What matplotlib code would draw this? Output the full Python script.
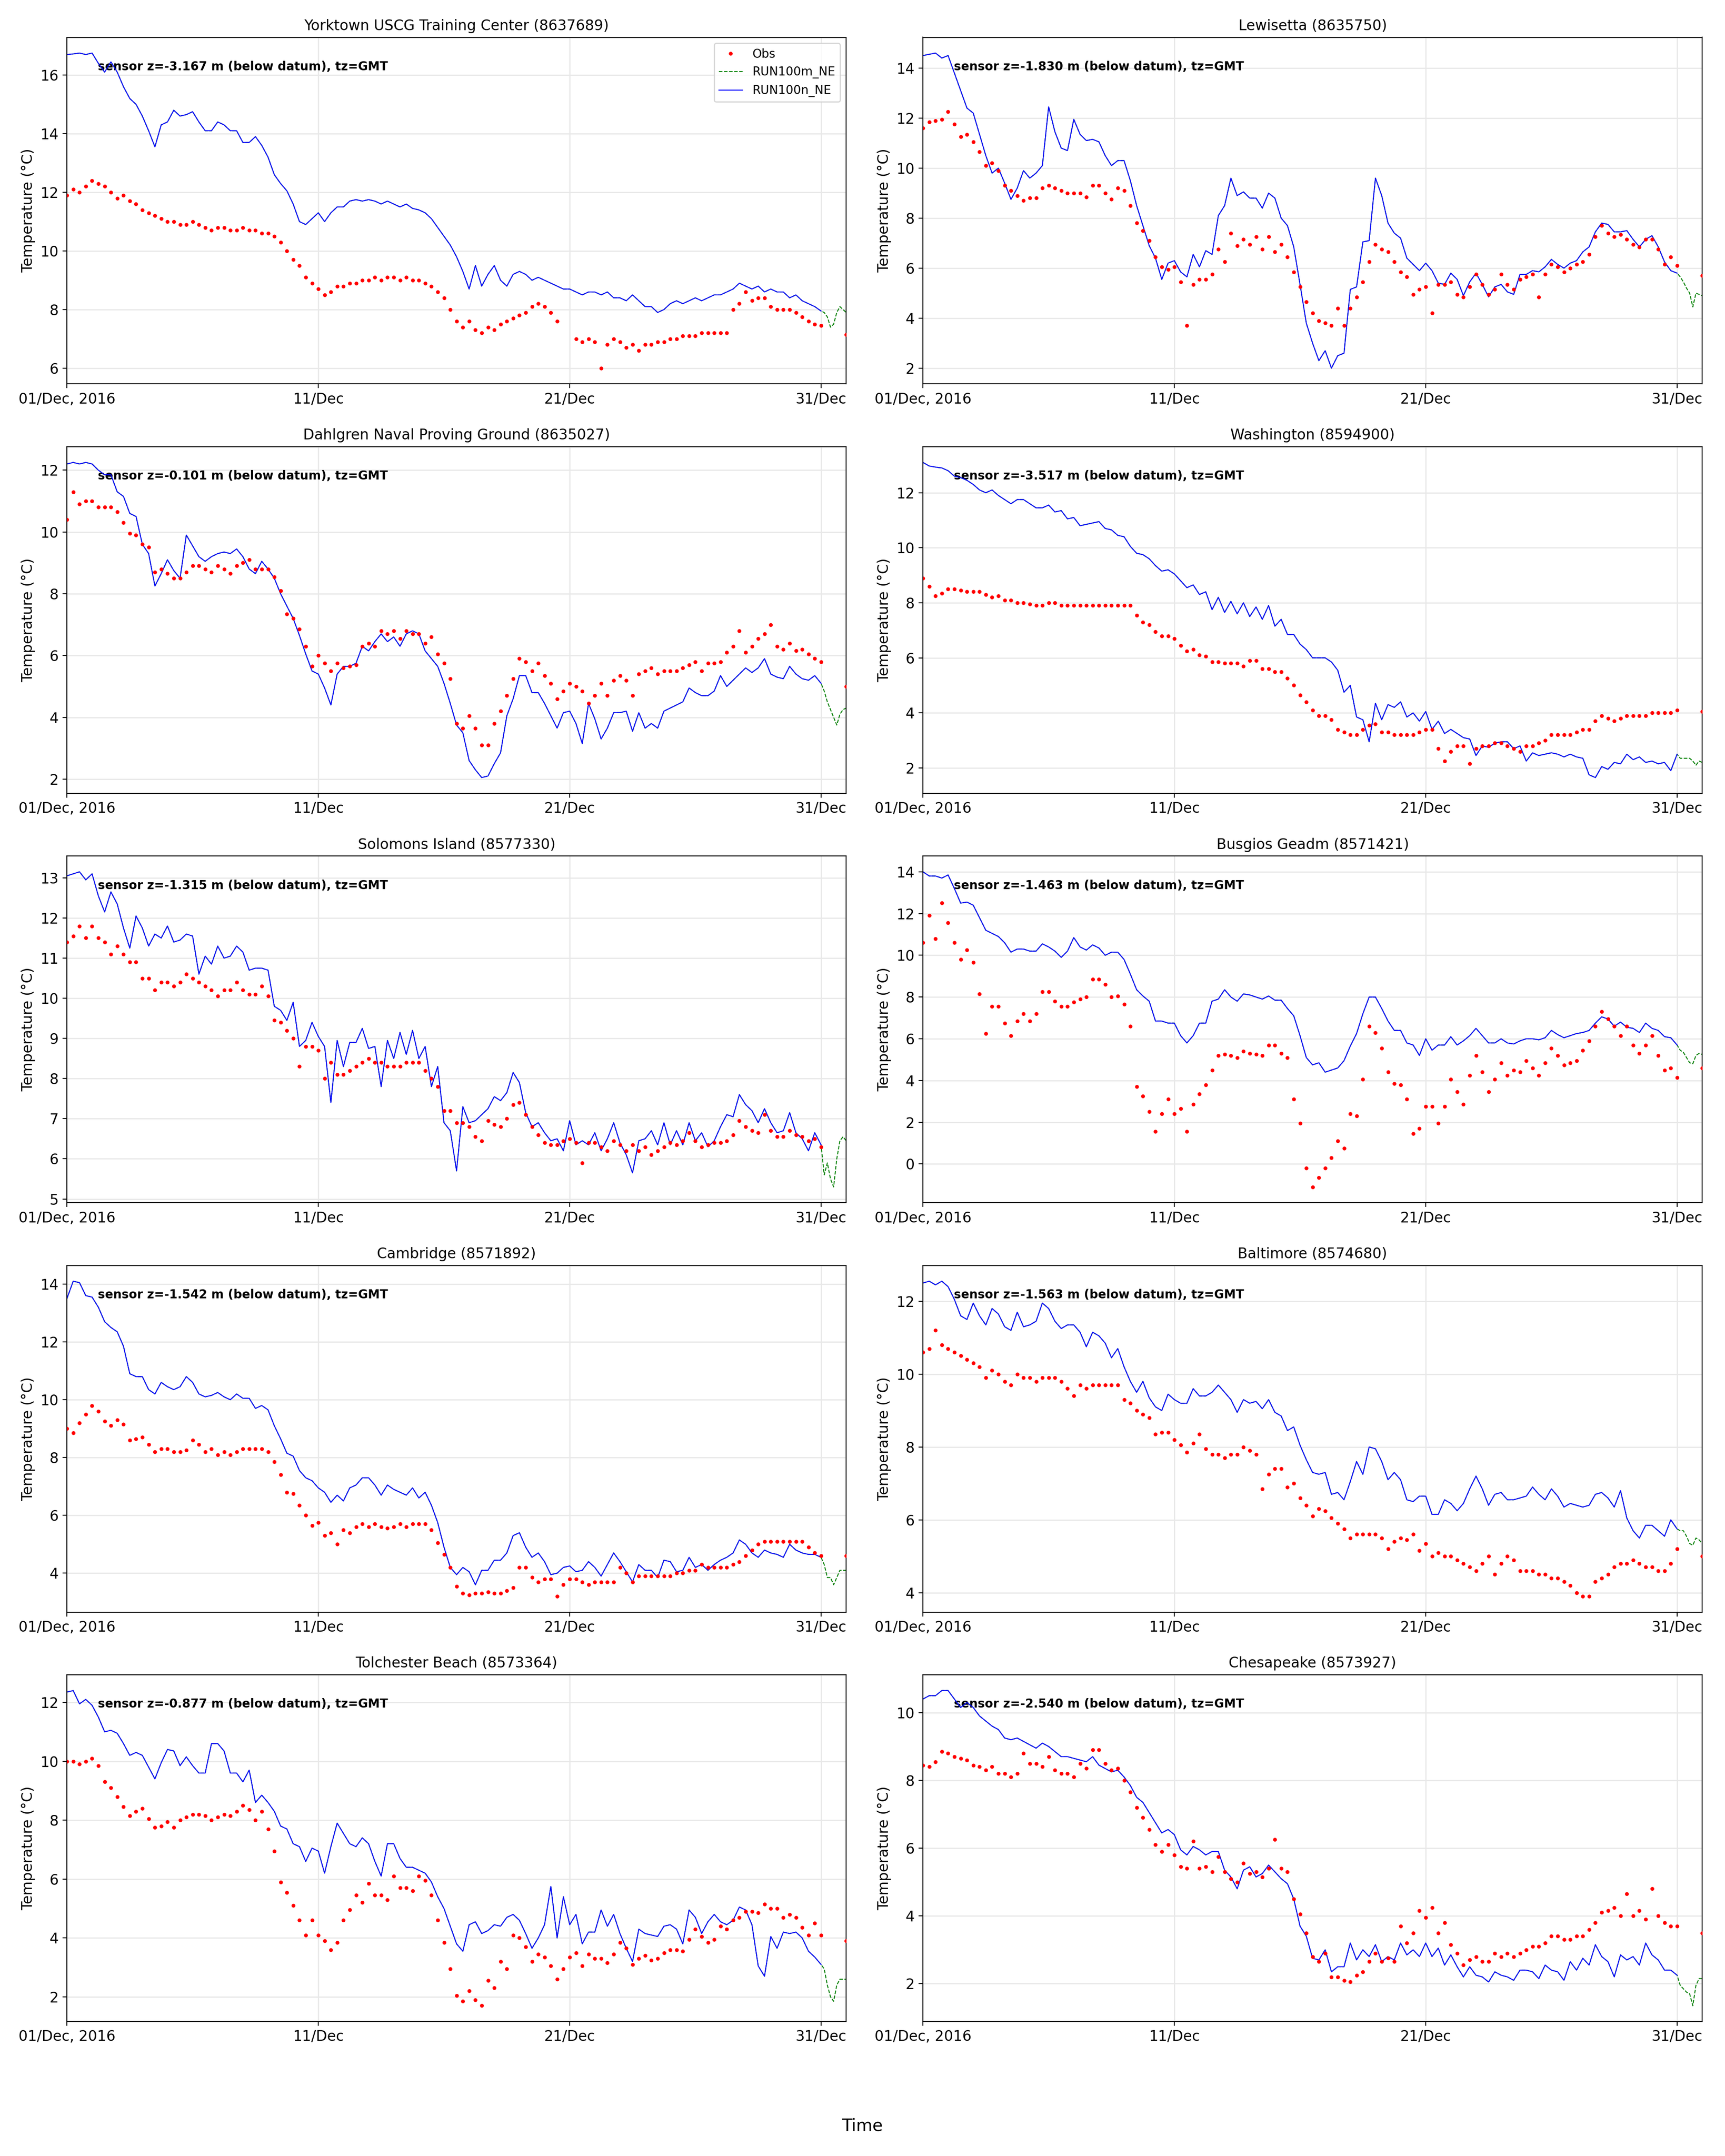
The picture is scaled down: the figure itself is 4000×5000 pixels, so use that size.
import numpy as np
import pandas as pd
import matplotlib
matplotlib.use("Agg")
import matplotlib.pyplot as plt
from matplotlib.ticker import MultipleLocator

# time axes: model + obs every 6 h (Dec 1 .. Dec 31), forecast tail every 3 h (Dec 31 .. Jan 1)
t_run = pd.date_range("2016-12-01", periods=121, freq="6h")
t_tail = pd.date_range("2016-12-31", periods=9, freq="3h")
t_end = pd.Timestamp("2017-01-01")

titles = ["Yorktown USCG Training Center (8637689)", "Lewisetta (8635750)",
          "Dahlgren Naval Proving Ground (8635027)", "Washington (8594900)",
          "Solomons Island (8577330)", "Busgios Geadm (8571421)",
          "Cambridge (8571892)", "Baltimore (8574680)",
          "Tolchester Beach (8573364)", "Chesapeake (8573927)"]
sensor_z = [-3.167, -1.830, -0.101, -3.517, -1.315, -1.463, -1.542, -1.563, -0.877, -2.540]
ystep = [2, 2, 2, 2, 1, 2, 2, 2, 2, 2]
tick_dates = pd.to_datetime(["2016-12-01", "2016-12-11", "2016-12-21", "2016-12-31"])
tick_labels = ["01/Dec, 2016", "11/Dec", "21/Dec", "31/Dec"]
nan = np.nan

#### YORKTOWN ####
yorktown_obs = [11.9, 12.1, 12.0, 12.2, 12.4, 12.3, 12.2, 12.0, 11.8, 11.9, 11.7, 11.6,
    11.4, 11.3, 11.2, 11.1, 11.0, 11.0, 10.9, 10.9, 11.0, 10.9, 10.8, 10.7,
    10.8, 10.8, 10.7, 10.7, 10.8, 10.7, 10.7, 10.6, 10.6, 10.5, 10.3, 10.0,
    9.7, 9.5, 9.1, 8.9, 8.7, 8.5, 8.6, 8.8, 8.8, 8.9, 8.9, 9.0,
    9.0, 9.1, 9.0, 9.1, 9.1, 9.0, 9.1, 9.0, 9.0, 8.9, 8.8, 8.6,
    8.4, 8.0, 7.6, 7.4, 7.6, 7.3, 7.2, 7.4, 7.3, 7.5, 7.6, 7.7,
    7.8, 7.9, 8.1, 8.2, 8.1, 7.9, 7.6, nan, nan, 7.0, 6.9, 7.0,
    6.9, 6.0, 6.8, 7.0, 6.9, 6.7, 6.8, 6.6, 6.8, 6.8, 6.9, 6.9,
    7.0, 7.0, 7.1, 7.1, 7.1, 7.2, 7.2, 7.2, 7.2, 7.2, 8.0, 8.2,
    8.6, 8.3, 8.4, 8.4, 8.1, 8.0, 8.0, 8.0, 7.9, 7.75, 7.6, 7.5, 7.45]
yorktown_run = [16.7, 16.72, 16.75, 16.7, 16.75, 16.4, 16.1, 16.45, 16.1, 15.6, 15.2, 15.0,
    14.6, 14.1, 13.55, 14.3, 14.4, 14.8, 14.6, 14.65, 14.75, 14.4, 14.1, 14.1,
    14.4, 14.3, 14.1, 14.1, 13.7, 13.7, 13.9, 13.6, 13.2, 12.6, 12.3, 12.05,
    11.6, 11.0, 10.9, 11.1, 11.3, 11.0, 11.3, 11.5, 11.5, 11.7, 11.75, 11.7,
    11.75, 11.7, 11.6, 11.7, 11.6, 11.5, 11.6, 11.45, 11.4, 11.3, 11.1, 10.8,
    10.5, 10.2, 9.8, 9.3, 8.7, 9.5, 8.8, 9.2, 9.5, 9.0, 8.8, 9.2,
    9.3, 9.2, 9.0, 9.1, 9.0, 8.9, 8.8, 8.7, 8.7, 8.6, 8.5, 8.6,
    8.6, 8.5, 8.6, 8.4, 8.4, 8.3, 8.5, 8.3, 8.1, 8.1, 7.9, 8.0,
    8.2, 8.3, 8.2, 8.3, 8.4, 8.3, 8.4, 8.5, 8.5, 8.6, 8.7, 8.9,
    8.8, 8.7, 8.8, 8.6, 8.7, 8.6, 8.6, 8.4, 8.5, 8.3, 8.2, 8.1, 7.95]
yorktown_tail = [7.95, 7.9, 7.75, 7.4, 7.5, 7.9, 8.1, 8.0, 7.9]
yorktown_last = 7.15

#### LEWISETTA ####
lewisetta_obs = [11.6, 11.85, 11.9, 11.95, 12.25, 11.75, 11.25, 11.35, 11.05, 10.65, 10.1, 10.2,
    9.9, 9.3, 9.1, 8.9, 8.7, 8.8, 8.8, 9.2, 9.3, 9.2, 9.1, 9.0,
    9.0, 9.0, 8.85, 9.3, 9.3, 9.0, 8.75, 9.2, 9.1, 8.5, 7.8, 7.5,
    7.1, 6.45, 6.05, 5.95, 6.05, 5.45, 3.7, 5.35, 5.55, 5.55, 5.75, 6.75,
    6.25, 7.4, 6.9, 7.15, 6.95, 7.25, 6.75, 7.25, 6.65, 6.95, 6.45, 5.85,
    5.25, 4.65, 4.2, 3.9, 3.8, 3.7, 4.4, 3.7, 4.4, 4.85, 5.45, 6.25,
    6.95, 6.75, 6.65, 6.25, 5.85, 5.65, 4.95, 5.15, 5.25, 4.2, 5.35, 5.35,
    5.45, 4.95, 4.85, 5.25, 5.75, 5.35, 4.95, 5.15, 5.75, 5.35, 5.15, 5.55,
    5.65, 5.75, 4.85, 5.75, 6.15, 6.05, 5.85, 6.0, 6.15, 6.25, 6.55, 7.25,
    7.7, 7.4, 7.25, 7.35, 7.15, 6.95, 6.85, 7.15, 7.15, 6.75, 6.15, 6.45, 6.1]
lewisetta_run = [14.5, 14.55, 14.6, 14.4, 14.5, 13.8, 13.1, 12.4, 12.2, 11.35, 10.5, 9.8,
    10.0, 9.4, 8.75, 9.2, 9.9, 9.6, 9.8, 10.1, 12.45, 11.45, 10.8, 10.7,
    11.95, 11.35, 11.1, 11.15, 11.05, 10.5, 10.1, 10.3, 10.3, 9.5, 8.5, 7.7,
    6.9, 6.4, 5.55, 6.2, 6.3, 5.85, 5.65, 6.55, 6.05, 6.7, 6.55, 8.1,
    8.5, 9.6, 8.9, 9.05, 8.8, 8.8, 8.4, 9.0, 8.8, 8.0, 7.7, 6.85,
    5.35, 3.8, 3.0, 2.3, 2.7, 2.0, 2.5, 2.6, 5.15, 5.25, 7.05, 7.1,
    9.6, 8.9, 7.8, 7.4, 7.2, 6.4, 6.15, 5.9, 6.2, 5.9, 5.4, 5.35,
    5.8, 5.55, 4.9, 5.45, 5.8, 5.35, 4.85, 5.25, 5.35, 5.05, 4.95, 5.75,
    5.75, 5.9, 5.85, 6.05, 6.35, 6.15, 6.0, 6.2, 6.3, 6.65, 6.85, 7.45,
    7.8, 7.75, 7.45, 7.45, 7.5, 7.15, 6.85, 7.15, 7.3, 6.85, 6.25, 5.9, 5.8]
lewisetta_tail = [5.8, 5.65, 5.45, 5.2, 5.0, 4.45, 5.0, 4.95, 4.9]
lewisetta_last = 5.7

#### DAHLGREN ####
dahlgren_obs = [10.4, 11.3, 10.9, 11.0, 11.0, 10.8, 10.8, 10.8, 10.65, 10.3, 9.95, 9.9,
    9.6, 9.5, 8.7, 8.8, 8.65, 8.5, 8.5, 8.7, 8.9, 8.9, 8.8, 8.7,
    8.9, 8.8, 8.65, 8.9, 9.0, 9.1, 8.8, 8.8, 8.8, 8.55, 8.1, 7.35,
    7.2, 6.85, 6.3, 5.65, 6.0, 5.75, 5.5, 5.75, 5.6, 5.65, 5.7, 6.3,
    6.4, 6.3, 6.8, 6.7, 6.8, 6.55, 6.8, 6.7, 6.7, 6.4, 6.6, 6.05,
    5.75, 5.25, 3.8, 3.65, 4.05, 3.65, 3.1, 3.1, 3.8, 4.2, 4.7, 5.25,
    5.9, 5.8, 5.5, 5.75, 5.35, 5.1, 4.6, 4.85, 5.1, 5.0, 4.85, 4.45,
    4.7, 5.1, 4.7, 5.2, 5.35, 5.2, 4.7, 5.4, 5.5, 5.6, 5.4, 5.5,
    5.5, 5.5, 5.6, 5.7, 5.8, 5.5, 5.75, 5.75, 5.8, 6.1, 6.3, 6.8,
    6.1, 6.3, 6.55, 6.7, 7.0, 6.3, 6.2, 6.4, 6.15, 6.2, 6.05, 5.9, 5.8]
dahlgren_run = [12.2, 12.25, 12.2, 12.25, 12.2, 12.0, 11.85, 11.85, 11.3, 11.15, 10.6, 10.5,
    9.6, 9.3, 8.25, 8.65, 9.1, 8.75, 8.5, 9.9, 9.55, 9.2, 9.05, 9.2,
    9.3, 9.35, 9.3, 9.45, 9.2, 8.8, 8.65, 9.05, 8.8, 8.5, 8.0, 7.6,
    7.2, 6.65, 6.05, 5.5, 5.4, 4.95, 4.4, 5.4, 5.65, 5.65, 5.75, 6.3,
    6.15, 6.45, 6.7, 6.45, 6.6, 6.3, 6.7, 6.8, 6.7, 6.15, 5.9, 5.65,
    5.1, 4.45, 3.75, 3.5, 2.6, 2.3, 2.05, 2.1, 2.5, 2.85, 4.05, 4.6,
    5.35, 5.35, 4.8, 4.8, 4.45, 4.05, 3.65, 4.15, 4.2, 3.8, 3.15, 4.45,
    3.95, 3.3, 3.65, 4.15, 4.15, 4.2, 3.55, 4.15, 3.65, 3.8, 3.65, 4.2,
    4.3, 4.4, 4.5, 4.95, 4.8, 4.7, 4.7, 4.85, 5.35, 5.0, 5.2, 5.4,
    5.6, 5.45, 5.6, 5.9, 5.4, 5.3, 5.25, 5.65, 5.4, 5.25, 5.2, 5.35, 5.1]
dahlgren_tail = [5.1, 4.85, 4.5, 4.25, 4.0, 3.75, 4.1, 4.25, 4.3]
dahlgren_last = 5.0

#### WASHINGTON ####
washington_obs = [8.9, 8.6, 8.25, 8.35, 8.5, 8.5, 8.45, 8.4, 8.4, 8.4, 8.3, 8.2,
    8.25, 8.1, 8.1, 8.0, 8.0, 7.95, 7.9, 7.9, 8.0, 8.0, 7.9, 7.9,
    7.9, 7.9, 7.9, 7.9, 7.9, 7.9, 7.9, 7.9, 7.9, 7.9, 7.55, 7.3,
    7.2, 6.95, 6.8, 6.8, 6.7, 6.45, 6.25, 6.3, 6.1, 6.05, 5.85, 5.85,
    5.8, 5.8, 5.8, 5.7, 5.9, 5.9, 5.6, 5.6, 5.5, 5.5, 5.25, 5.0,
    4.65, 4.4, 4.1, 3.9, 3.9, 3.75, 3.4, 3.3, 3.2, 3.2, 3.4, 3.55,
    3.6, 3.3, 3.3, 3.2, 3.2, 3.2, 3.2, 3.3, 3.4, 3.4, 2.7, 2.25,
    2.6, 2.8, 2.8, 2.15, 2.7, 2.8, 2.8, 2.9, 2.9, 2.8, 2.7, 2.6,
    2.8, 2.8, 2.9, 3.0, 3.2, 3.2, 3.2, 3.2, 3.3, 3.4, 3.4, 3.7,
    3.9, 3.8, 3.7, 3.8, 3.9, 3.9, 3.9, 3.9, 4.0, 4.0, 4.0, 4.0, 4.1]
washington_run = [13.1, 12.97, 12.93, 12.9, 12.8, 12.6, 12.55, 12.45, 12.3, 12.1, 12.0, 12.1,
    11.9, 11.75, 11.6, 11.75, 11.75, 11.6, 11.45, 11.45, 11.55, 11.3, 11.35, 11.05,
    11.1, 10.8, 10.85, 10.9, 10.95, 10.7, 10.65, 10.45, 10.4, 10.05, 9.8, 9.75,
    9.6, 9.35, 9.15, 9.2, 9.05, 8.8, 8.55, 8.65, 8.3, 8.4, 7.75, 8.2,
    7.65, 8.05, 7.6, 8.0, 7.5, 7.85, 7.4, 7.9, 7.15, 7.4, 6.85, 6.85,
    6.5, 6.3, 6.0, 6.0, 6.0, 5.85, 5.55, 4.75, 5.0, 3.85, 3.75, 2.95,
    4.35, 3.75, 4.3, 4.2, 4.4, 3.85, 4.0, 3.7, 4.05, 3.4, 3.7, 3.25,
    3.4, 3.25, 3.1, 3.05, 2.45, 2.8, 2.75, 2.9, 2.95, 2.95, 2.7, 2.8,
    2.25, 2.55, 2.45, 2.5, 2.55, 2.5, 2.4, 2.5, 2.4, 2.35, 1.75, 1.65,
    2.05, 1.95, 2.2, 2.15, 2.5, 2.3, 2.4, 2.2, 2.25, 2.15, 2.2, 1.9, 2.5]
washington_tail = [2.5, 2.35, 2.35, 2.35, 2.35, 2.25, 2.1, 2.25, 2.2]
washington_last = 4.05

#### SOLOMONS ####
solomons_obs = [11.4, 11.55, 11.8, 11.5, 11.8, 11.5, 11.4, 11.1, 11.3, 11.1, 10.9, 10.9,
    10.5, 10.5, 10.2, 10.4, 10.4, 10.3, 10.4, 10.6, 10.5, 10.4, 10.3, 10.2,
    10.05, 10.2, 10.2, 10.4, 10.2, 10.1, 10.1, 10.3, 10.05, 9.45, 9.4, 9.2,
    9.0, 8.3, 8.8, 8.8, 8.7, 8.0, 8.4, 8.1, 8.1, 8.2, 8.3, 8.4,
    8.5, 8.4, 8.4, 8.3, 8.3, 8.3, 8.4, 8.4, 8.4, 8.2, 8.0, 7.8,
    7.2, 7.2, 6.9, 6.9, 6.8, 6.55, 6.45, 6.95, 6.85, 6.8, 7.0, 7.35,
    7.4, 7.1, 6.8, 6.6, 6.4, 6.35, 6.35, 6.45, 6.5, 6.4, 5.9, 6.4,
    6.4, 6.3, 6.2, 6.45, 6.35, 6.2, 6.35, 6.2, 6.3, 6.1, 6.2, 6.3,
    6.4, 6.35, 6.45, 6.65, 6.45, 6.3, 6.35, 6.4, 6.4, 6.45, 6.6, 6.95,
    6.8, 6.7, 6.65, 7.1, 6.7, 6.55, 6.55, 6.7, 6.6, 6.55, 6.45, 6.5, 6.3]
solomons_run = [13.05, 13.1, 13.15, 12.95, 13.1, 12.55, 12.15, 12.65, 12.35, 11.75, 11.25, 12.05,
    11.75, 11.3, 11.6, 11.5, 11.8, 11.4, 11.45, 11.6, 11.55, 10.6, 11.05, 10.85,
    11.3, 11.0, 11.05, 11.3, 11.15, 10.7, 10.75, 10.75, 10.7, 9.8, 9.7, 9.45,
    9.9, 8.8, 8.95, 9.4, 9.05, 8.8, 7.4, 8.95, 8.3, 8.9, 8.9, 9.25,
    8.75, 8.8, 7.8, 8.95, 8.5, 9.15, 8.6, 9.2, 8.5, 8.8, 7.8, 8.3,
    6.9, 6.7, 5.7, 7.3, 6.9, 6.95, 7.1, 7.25, 7.55, 7.45, 7.65, 8.15,
    7.9, 7.15, 6.8, 6.9, 6.65, 6.45, 6.5, 6.2, 6.95, 6.35, 6.45, 6.35,
    6.65, 6.2, 6.5, 6.9, 6.4, 6.1, 5.65, 6.45, 6.5, 6.7, 6.35, 6.9,
    6.35, 6.7, 6.35, 6.9, 6.45, 6.65, 6.3, 6.45, 6.8, 7.1, 7.05, 7.6,
    7.35, 7.2, 6.9, 7.25, 6.9, 6.65, 6.7, 7.15, 6.65, 6.5, 6.2, 6.65, 6.35]
solomons_tail = [6.35, 5.6, 5.9, 5.5, 5.3, 6.0, 6.45, 6.55, 6.45]
solomons_last = nan

#### BUSGIOS ####
busgios_obs = [10.6, 11.9, 10.8, 12.5, 11.55, 10.6, 9.8, 10.25, 9.65, 8.15, 6.25, 7.55,
    7.55, 6.75, 6.15, 6.85, 7.2, 6.85, 7.2, 8.25, 8.25, 7.8, 7.55, 7.55,
    7.75, 7.9, 8.0, 8.85, 8.85, 8.6, 8.0, 8.05, 7.65, 6.6, 3.7, 3.25,
    2.5, 1.55, 2.4, 3.1, 2.4, 2.65, 1.55, 2.85, 3.35, 3.8, 4.5, 5.2,
    5.25, 5.2, 5.1, 5.4, 5.3, 5.25, 5.2, 5.7, 5.7, 5.3, 5.1, 3.1,
    1.95, -0.2, -1.1, -0.65, -0.2, 0.3, 1.1, 0.75, 2.4, 2.3, 4.05, 6.6,
    6.3, 5.55, 4.4, 3.85, 3.8, 3.1, 1.45, 1.7, 2.75, 2.75, 1.95, 2.75,
    4.05, 3.45, 2.85, 4.25, 5.2, 4.4, 3.45, 4.05, 4.85, 4.25, 4.5, 4.4,
    4.95, 4.6, 4.25, 4.85, 5.55, 5.2, 4.75, 4.85, 4.95, 5.45, 5.9, 6.6,
    7.3, 6.95, 6.6, 6.15, 6.6, 5.7, 5.3, 5.7, 6.15, 5.2, 4.5, 4.6, 4.15]
busgios_run = [14.0, 13.8, 13.8, 13.7, 13.85, 13.2, 12.5, 12.55, 12.4, 11.8, 11.2, 11.05,
    10.9, 10.6, 10.15, 10.3, 10.3, 10.2, 10.2, 10.55, 10.4, 10.2, 9.9, 10.2,
    10.85, 10.4, 10.25, 10.5, 10.35, 10.0, 10.15, 10.15, 9.8, 9.1, 8.35, 8.05,
    7.8, 6.85, 6.85, 6.75, 6.75, 6.15, 5.8, 6.15, 6.75, 6.75, 7.8, 7.9,
    8.35, 8.0, 7.8, 8.15, 8.1, 8.0, 7.9, 8.05, 7.85, 7.85, 7.45, 7.1,
    6.15, 5.1, 4.75, 4.85, 4.4, 4.5, 4.6, 4.95, 5.65, 6.25, 7.2, 8.0,
    8.0, 7.45, 6.85, 6.4, 6.4, 5.8, 5.7, 5.2, 6.0, 5.45, 5.7, 5.7,
    6.1, 5.7, 5.9, 6.15, 6.5, 6.15, 5.8, 5.8, 6.0, 5.8, 5.75, 5.9,
    6.0, 6.0, 5.95, 6.05, 6.4, 6.2, 6.05, 6.15, 6.25, 6.3, 6.4, 6.75,
    7.05, 6.95, 6.6, 6.8, 6.55, 6.5, 6.3, 6.75, 6.5, 6.4, 6.1, 6.05, 5.7]
busgios_tail = [5.7, 5.45, 5.35, 5.1, 4.85, 4.8, 5.2, 5.3, 5.25]
busgios_last = 4.6

#### CAMBRIDGE ####
cambridge_obs = [9.0, 8.85, 9.2, 9.5, 9.8, 9.6, 9.25, 9.1, 9.3, 9.15, 8.6, 8.65,
    8.7, 8.45, 8.2, 8.3, 8.3, 8.2, 8.2, 8.25, 8.6, 8.45, 8.2, 8.3,
    8.1, 8.2, 8.1, 8.2, 8.3, 8.3, 8.3, 8.3, 8.2, 7.85, 7.4, 6.8,
    6.75, 6.35, 6.0, 5.65, 5.75, 5.3, 5.4, 5.0, 5.5, 5.4, 5.6, 5.7,
    5.6, 5.7, 5.6, 5.55, 5.6, 5.7, 5.6, 5.7, 5.7, 5.7, 5.5, 5.05,
    4.65, 4.2, 3.55, 3.3, 3.25, 3.3, 3.3, 3.35, 3.3, 3.3, 3.4, 3.5,
    4.2, 4.2, 3.85, 3.7, 3.8, 3.8, 3.2, 3.6, 3.8, 3.8, 3.7, 3.6,
    3.7, 3.7, 3.7, 3.7, 4.2, 4.0, 3.7, 3.9, 3.9, 3.9, 3.9, 3.9,
    3.9, 4.0, 4.0, 4.1, 4.1, 4.3, 4.2, 4.2, 4.2, 4.2, 4.3, 4.4,
    4.6, 4.8, 5.0, 5.1, 5.1, 5.1, 5.1, 5.1, 5.1, 5.1, 4.9, 4.7, 4.6]
cambridge_run = [13.5, 14.1, 14.05, 13.6, 13.55, 13.2, 12.7, 12.5, 12.35, 11.85, 10.9, 10.8,
    10.8, 10.35, 10.2, 10.6, 10.45, 10.35, 10.45, 10.8, 10.6, 10.2, 10.1, 10.15,
    10.25, 10.1, 10.0, 10.2, 10.05, 10.05, 9.7, 9.8, 9.65, 9.1, 8.65, 8.15,
    8.05, 7.55, 7.3, 7.2, 6.95, 6.8, 6.45, 6.7, 6.5, 6.95, 7.05, 7.3,
    7.3, 7.05, 6.7, 7.05, 6.9, 6.8, 6.7, 6.95, 6.6, 6.8, 6.35, 5.75,
    4.9, 4.2, 3.95, 4.2, 4.05, 3.6, 4.1, 4.1, 4.45, 4.45, 4.7, 5.3,
    5.4, 4.9, 4.55, 4.7, 4.4, 3.95, 4.0, 4.2, 4.25, 4.05, 4.1, 4.4,
    4.2, 3.9, 4.3, 4.7, 4.4, 4.05, 3.7, 4.3, 4.1, 4.1, 3.85, 4.45,
    4.4, 4.05, 4.1, 4.55, 4.2, 4.3, 4.1, 4.3, 4.45, 4.55, 4.7, 5.15,
    5.0, 4.7, 4.55, 4.8, 4.7, 4.65, 4.55, 5.0, 4.8, 4.7, 4.65, 4.65, 4.55]
cambridge_tail = [4.55, 4.3, 3.85, 3.85, 3.6, 3.85, 4.1, 4.1, 4.1]
cambridge_last = 4.6

#### BALTIMORE ####
baltimore_obs = [10.6, 10.7, 11.2, 10.8, 10.7, 10.6, 10.5, 10.4, 10.3, 10.2, 9.9, 10.1,
    10.0, 9.8, 9.7, 10.0, 9.9, 9.9, 9.8, 9.9, 9.9, 9.9, 9.8, 9.6,
    9.4, 9.7, 9.6, 9.7, 9.7, 9.7, 9.7, 9.7, 9.3, 9.2, 9.0, 8.9,
    8.8, 8.35, 8.4, 8.4, 8.2, 8.05, 7.85, 8.1, 8.35, 7.95, 7.8, 7.8,
    7.7, 7.8, 7.8, 8.0, 7.9, 7.8, 6.85, 7.25, 7.4, 7.4, 6.9, 7.0,
    6.6, 6.4, 6.1, 6.3, 6.25, 6.05, 5.9, 5.75, 5.5, 5.6, 5.6, 5.6,
    5.6, 5.5, 5.2, 5.4, 5.5, 5.45, 5.6, 5.15, 5.35, 5.0, 5.1, 5.0,
    5.0, 4.9, 4.8, 4.7, 4.6, 4.8, 5.0, 4.5, 4.8, 5.0, 4.9, 4.6,
    4.6, 4.6, 4.5, 4.5, 4.4, 4.4, 4.3, 4.2, 4.0, 3.9, 3.9, 4.3,
    4.4, 4.5, 4.7, 4.8, 4.8, 4.9, 4.8, 4.7, 4.7, 4.6, 4.6, 4.8, 5.2]
baltimore_run = [12.5, 12.55, 12.45, 12.55, 12.4, 12.05, 11.6, 11.5, 11.95, 11.6, 11.35, 11.8,
    11.65, 11.3, 11.2, 11.7, 11.3, 11.35, 11.45, 11.95, 11.8, 11.45, 11.25, 11.35,
    11.35, 11.15, 10.75, 11.15, 11.05, 10.85, 10.45, 10.7, 10.2, 9.8, 9.5, 9.8,
    9.35, 9.1, 9.0, 9.45, 9.3, 9.2, 9.2, 9.6, 9.4, 9.4, 9.5, 9.7,
    9.5, 9.3, 8.95, 9.3, 9.2, 9.25, 9.05, 9.3, 8.95, 8.85, 8.45, 8.55,
    8.05, 7.65, 7.3, 7.25, 7.3, 6.7, 6.75, 6.55, 7.05, 7.6, 7.25, 8.0,
    7.95, 7.6, 7.1, 7.3, 7.1, 6.55, 6.5, 6.65, 6.65, 6.15, 6.15, 6.55,
    6.45, 6.25, 6.45, 6.85, 7.2, 6.85, 6.4, 6.7, 6.75, 6.55, 6.55, 6.6,
    6.65, 6.9, 6.7, 6.55, 6.85, 6.65, 6.35, 6.45, 6.4, 6.35, 6.4, 6.7,
    6.75, 6.6, 6.35, 6.8, 6.05, 5.7, 5.5, 5.85, 5.85, 5.7, 5.55, 6.0, 5.75]
baltimore_tail = [5.75, 5.7, 5.7, 5.55, 5.35, 5.3, 5.5, 5.45, 5.35]
baltimore_last = 5.0

#### TOLCHESTER ####
tolchester_obs = [10.0, 10.0, 9.9, 10.0, 10.1, 9.85, 9.3, 9.1, 8.8, 8.45, 8.15, 8.3,
    8.4, 8.05, 7.75, 7.8, 7.95, 7.75, 8.0, 8.1, 8.2, 8.2, 8.15, 8.0,
    8.1, 8.2, 8.15, 8.3, 8.5, 8.35, 8.0, 8.3, 7.7, 6.95, 5.9, 5.55,
    5.1, 4.6, 4.1, 4.6, 4.1, 3.9, 3.6, 3.85, 4.6, 4.95, 5.45, 5.2,
    5.85, 5.45, 5.45, 5.3, 6.1, 5.7, 5.7, 5.6, 6.1, 5.95, 5.45, 4.6,
    3.85, 2.95, 2.05, 1.85, 2.2, 1.9, 1.7, 2.55, 2.3, 3.2, 2.95, 4.1,
    4.0, 3.7, 3.2, 3.45, 3.35, 3.05, 2.6, 2.95, 3.35, 3.5, 3.05, 3.45,
    3.3, 3.3, 3.15, 3.45, 3.85, 3.65, 3.1, 3.3, 3.4, 3.25, 3.3, 3.5,
    3.6, 3.6, 3.55, 3.95, 4.3, 4.05, 3.85, 3.95, 4.4, 4.3, 4.6, 4.7,
    4.9, 4.9, 4.85, 5.15, 5.0, 5.0, 4.7, 4.8, 4.7, 4.35, 4.1, 4.5, 4.1]
tolchester_run = [12.35, 12.4, 11.95, 12.1, 11.9, 11.5, 11.0, 11.05, 10.95, 10.6, 10.2, 10.3,
    10.2, 9.8, 9.4, 9.95, 10.4, 10.35, 9.85, 10.15, 9.85, 9.6, 9.6, 10.6,
    10.6, 10.35, 9.6, 9.6, 9.3, 9.7, 8.6, 8.85, 8.6, 8.3, 7.8, 7.7,
    7.2, 7.1, 6.6, 7.05, 6.95, 6.2, 7.1, 7.9, 7.55, 7.2, 7.1, 7.4,
    7.2, 6.6, 6.1, 7.2, 7.2, 6.7, 6.4, 6.4, 6.3, 6.2, 5.9, 5.4,
    5.0, 4.4, 3.8, 3.55, 4.45, 4.55, 4.15, 4.25, 4.45, 4.4, 4.7, 4.8,
    4.6, 4.15, 3.65, 4.0, 4.45, 5.75, 4.0, 5.4, 4.45, 4.8, 3.8, 4.2,
    4.2, 4.95, 4.4, 4.8, 4.15, 3.65, 3.2, 4.3, 4.15, 4.1, 4.05, 4.4,
    4.45, 4.3, 3.8, 4.95, 4.7, 4.15, 4.55, 4.8, 4.55, 4.45, 4.6, 5.05,
    4.95, 4.45, 3.05, 2.7, 4.05, 3.65, 4.2, 4.15, 4.2, 4.0, 3.55, 3.35, 3.1]
tolchester_tail = [3.1, 2.95, 2.4, 2.0, 1.85, 2.4, 2.6, 2.6, 2.6]
tolchester_last = 3.9

#### CHESAPEAKE ####
chesapeake_obs = [8.45, 8.4, 8.55, 8.85, 8.8, 8.7, 8.65, 8.6, 8.45, 8.4, 8.3, 8.4,
    8.2, 8.2, 8.1, 8.2, 8.8, 8.5, 8.5, 8.4, 8.7, 8.3, 8.2, 8.2,
    8.1, 8.5, 8.35, 8.9, 8.9, 8.5, 8.3, 8.35, 8.0, 7.65, 7.2, 6.9,
    6.55, 6.1, 5.9, 6.1, 5.8, 5.45, 5.4, 6.2, 5.4, 5.45, 5.3, 5.75,
    5.3, 5.1, 5.0, 5.55, 5.25, 5.3, 5.15, 5.4, 6.25, 5.4, 5.3, 4.5,
    4.05, 3.5, 2.8, 2.65, 2.9, 2.2, 2.2, 2.1, 2.05, 2.25, 2.35, 2.65,
    2.9, 2.65, 2.75, 2.65, 3.7, 3.2, 3.5, 4.15, 3.95, 4.25, 3.5, 3.8,
    3.15, 2.9, 2.55, 2.7, 2.8, 2.65, 2.65, 2.9, 2.8, 2.9, 2.8, 2.9,
    3.0, 3.1, 3.1, 3.2, 3.4, 3.4, 3.3, 3.3, 3.4, 3.4, 3.6, 3.8,
    4.1, 4.15, 4.25, 4.0, 4.65, 4.0, 4.15, 3.9, 4.8, 4.0, 3.8, 3.7, 3.7]
chesapeake_run = [10.4, 10.5, 10.5, 10.65, 10.65, 10.4, 10.15, 10.3, 10.15, 9.9, 9.75, 9.6,
    9.5, 9.25, 9.2, 9.25, 9.15, 9.05, 8.95, 9.1, 9.0, 8.85, 8.7, 8.7,
    8.65, 8.6, 8.55, 8.7, 8.45, 8.35, 8.25, 8.3, 8.1, 7.85, 7.5, 7.35,
    7.05, 6.75, 6.45, 6.55, 6.4, 5.95, 5.8, 6.05, 5.95, 5.8, 5.9, 5.9,
    5.35, 5.15, 4.8, 5.35, 5.45, 5.15, 5.25, 5.5, 5.3, 5.1, 4.95, 4.5,
    3.7, 3.4, 2.75, 2.7, 3.0, 2.35, 2.5, 2.5, 3.2, 2.7, 3.0, 2.8,
    3.15, 2.65, 2.8, 2.7, 3.2, 2.85, 3.0, 2.8, 3.2, 2.8, 3.05, 2.55,
    2.85, 2.5, 2.2, 2.5, 2.25, 2.2, 2.05, 2.35, 2.25, 2.2, 2.1, 2.4,
    2.4, 2.35, 2.15, 2.55, 2.4, 2.35, 2.1, 2.65, 2.4, 2.75, 2.55, 3.15,
    2.8, 2.65, 2.2, 2.85, 2.7, 2.8, 2.55, 3.2, 2.85, 2.7, 2.4, 2.4, 2.25]
chesapeake_tail = [2.25, 1.95, 1.85, 1.75, 1.7, 1.35, 1.95, 2.15, 2.15]
chesapeake_last = 3.5

obs_all = [yorktown_obs, lewisetta_obs, dahlgren_obs, washington_obs, solomons_obs,
           busgios_obs, cambridge_obs, baltimore_obs, tolchester_obs, chesapeake_obs]
run_all = [yorktown_run, lewisetta_run, dahlgren_run, washington_run, solomons_run,
           busgios_run, cambridge_run, baltimore_run, tolchester_run, chesapeake_run]
tail_all = [yorktown_tail, lewisetta_tail, dahlgren_tail, washington_tail, solomons_tail,
            busgios_tail, cambridge_tail, baltimore_tail, tolchester_tail, chesapeake_tail]
last_all = [yorktown_last, lewisetta_last, dahlgren_last, washington_last, solomons_last,
            busgios_last, cambridge_last, baltimore_last, tolchester_last, chesapeake_last]

### GRAPHING ############################
fig, axes = plt.subplots(5, 2, figsize=(20, 25), dpi=200)
fig.subplots_adjust(left=0.0388, right=0.9868, top=0.9827, bottom=0.0624,
                    wspace=0.0985, hspace=0.181)

t_green = list(t_run) + list(t_tail[1:])
t_obs = list(t_run) + [t_end]

for i, ax in enumerate(axes.flat):
    run = run_all[i]
    green = run + tail_all[i][1:]          # 100m run, hidden under the 100n run up to Dec 31
    obs = obs_all[i] + [last_all[i]]

    g, = ax.plot(t_green, green, "--", color="green", lw=0.8, zorder=2)
    b, = ax.plot(t_run, run, "-", color="blue", lw=0.8, zorder=2.5)
    o, = ax.plot(t_obs, obs, "o", color="red", ms=3.2, mew=0, zorder=3)

    ax.set_xlim(t_run[0], t_end)
    ax.set_xticks(tick_dates)
    ax.set_xticklabels(tick_labels)
    ax.yaxis.set_major_locator(MultipleLocator(ystep[i]))
    ax.tick_params(labelsize=12)
    ax.grid(True, color="#e8e8e8", lw=1.0)
    ax.set_axisbelow(True)
    ax.set_title(titles[i], fontsize=12)
    ax.set_ylabel("Temperature (°C)", fontsize=12)
    ax.text(0.04, 0.915, f"sensor z={sensor_z[i]:.3f} m (below datum), tz=GMT",
            transform=ax.transAxes, fontsize=10, fontweight="bold", va="center", zorder=1)

    if i == 0:
        ax.legend([o, g, b], ["Obs", "RUN100m_NE", "RUN100n_NE"], loc="upper right", fontsize=10)

fig.text(0.5, 0.014, "Time", ha="center", va="center", fontsize=14)
fig.savefig("out.png", dpi=200)
